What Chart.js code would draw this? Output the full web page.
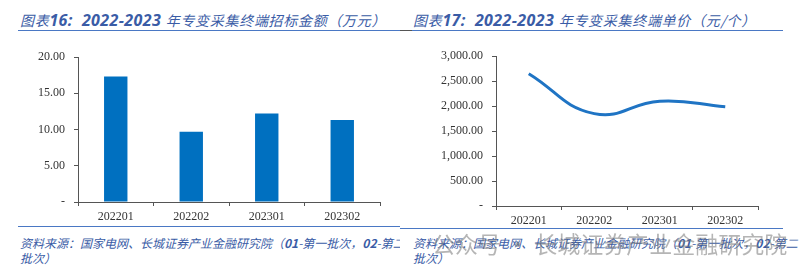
<!DOCTYPE html>
<html>
<head>
<meta charset="utf-8">
<script src="https://cdn.jsdelivr.net/npm/chart.js@4"></script>
<style>
  body { margin: 0; width: 800px; height: 279px; background: #fff; position: relative; overflow: hidden; }
  .title { position: absolute; top: 9px; font-family: "Noto Sans CJK SC", sans-serif; font-style: italic;
           font-size: 14px; letter-spacing: 0.7px; color: #3a5ca6; white-space: nowrap; }
  .title b { font-family: "Open Sans", sans-serif; font-weight: 700; font-size: 16px; letter-spacing: 0.4px; }
  .rule { position: absolute; height: 0; border-top: 1.5px solid #4a78c4; }
  .src { position: absolute; font-family: "Noto Sans CJK SC", sans-serif; font-style: italic; font-size: 12px;
         line-height: 15px; color: #3a5ca6; white-space: nowrap; overflow: hidden; }
  .box { position: absolute; }
  .wm { position: absolute; left: 432px; top: 226px; font-family: "Noto Sans CJK SC", sans-serif; font-size: 23px;
        color: rgba(120,120,120,0.55); white-space: nowrap; }
</style>
</head>
<body>
<div class="title" style="left:20px"><span>图表</span><b>16:&nbsp; 2022-2023 </b>年专变采集终端招标金额（万元）</div>
<div class="title" style="left:413px"><span>图表</span><b>17:&nbsp; 2022-2023 </b>年专变采集终端单价（元/个）</div>
<div class="rule" style="left:18px; width:382px; top:30px"></div>
<div class="rule" style="left:400px; width:12px; top:30px; border-color:#555"></div>
<div class="rule" style="left:412px; width:371px; top:30px"></div>

<div class="box" style="left:0; top:40px; width:392px; height:190px"><canvas id="c1"></canvas></div>
<div class="box" style="left:400px; top:40px; width:362px; height:194px"><canvas id="c2"></canvas></div>

<div class="rule" style="left:18px; width:382px; top:226px"></div>
<div class="rule" style="left:400px; width:383px; top:228px"></div>
<div class="src" style="left:20px; top:235px; width:380px">资料来源：国家电网、长城证券产业金融研究院（<b>01</b>-第一批次，<b>02</b>-第二<br>批次）</div>
<div class="src" style="left:413px; top:235px; width:387px">资料来源：国家电网、长城证券产业金融研究院（<b>01</b>-第一批次，<b>02</b>-第二<br>批次）</div>
<div class="wm">公众号 · 长城证券产业金融研究院</div>

<script>
// categories shared by both panels
const periods = ['202201', '202202', '202301', '202302'];
// 招标金额（万元）
const amount = [17.3, 9.7, 12.2, 11.3];
// 单价（元/个）
const unitPrice = [2650, 1850, 2100, 1990];

const tickFont = { family: '"Liberation Serif", serif', size: 12 };
const tickColor = '#333';

function fmt(v) {
  if (v === 0) return '-';
  return v.toLocaleString('en-US', { minimumFractionDigits: 2, maximumFractionDigits: 2 });
}

function scalesFor(max, step, yWidth) {
  return {
    x: {
      offset: true,
      grid: { display: true, drawOnChartArea: false, drawTicks: true, tickLength: 4, color: '#555', offset: true },
      border: { color: '#555', width: 1 },
      ticks: { font: tickFont, color: tickColor, padding: 4, maxRotation: 0 },
      afterFit: s => { s.height = 28; }
    },
    y: {
      min: 0, max: max,
      grid: { display: true, drawOnChartArea: false, drawTicks: true, tickLength: 4, color: '#555' },
      border: { color: '#555', width: 1 },
      ticks: { stepSize: step, font: tickFont, color: tickColor, padding: 9, callback: v => fmt(v) },
      afterFit: s => { s.width = yWidth; }
    }
  };
}

const common = {
  responsive: true,
  maintainAspectRatio: false,
  animation: false,
  plugins: { legend: { display: false }, tooltip: { enabled: false } }
};

new Chart(document.getElementById('c1'), {
  type: 'bar',
  data: {
    labels: periods,
    datasets: [{ data: amount, backgroundColor: '#0070c0', barPercentage: 0.62, categoryPercentage: 0.5 }]
  },
  options: Object.assign({}, common, {
    layout: { padding: { top: 17, right: 12, left: 0, bottom: 0 } },
    scales: scalesFor(20, 5, 78)
  })
});

new Chart(document.getElementById('c2'), {
  type: 'line',
  data: {
    labels: periods,
    datasets: [{ data: unitPrice, borderColor: '#1f74c4', borderWidth: 3, pointRadius: 0, tension: 0.45, fill: false }]
  },
  options: Object.assign({}, common, {
    layout: { padding: { top: 9, right: 4, left: 0, bottom: 0 } },
    scales: scalesFor(3000, 500, 96)
  })
});
</script>
</body>
</html>
